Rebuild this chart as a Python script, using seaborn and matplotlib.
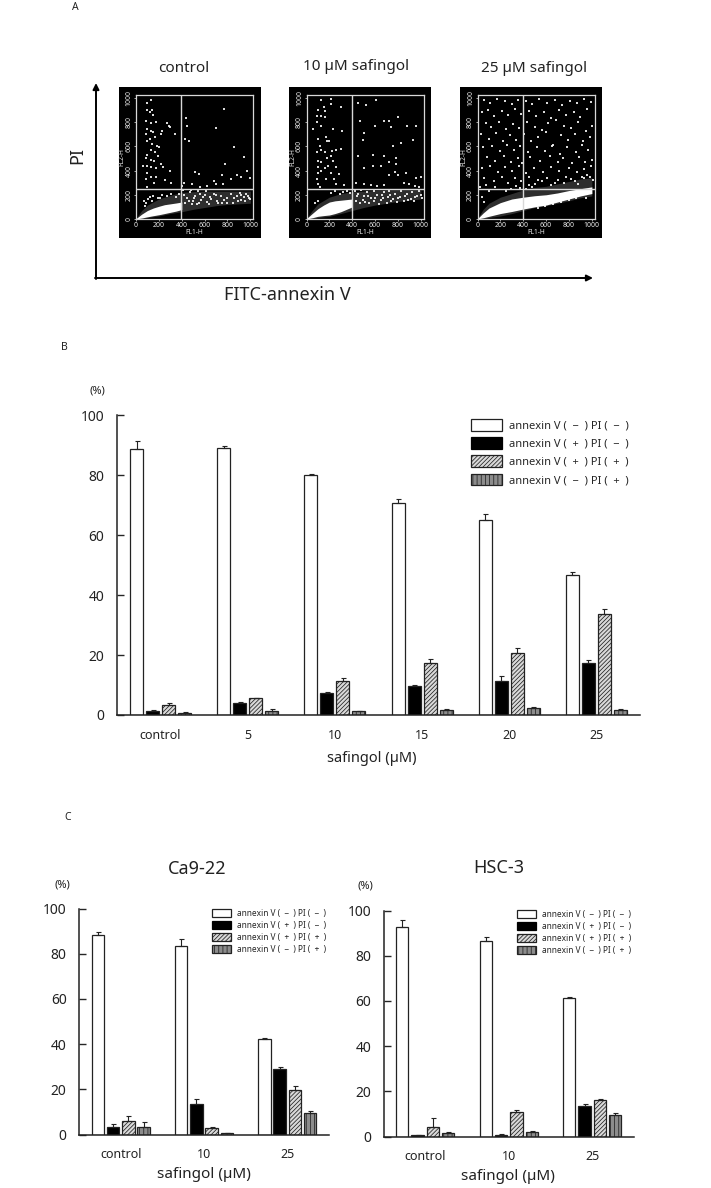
import pandas as pd
import matplotlib
matplotlib.use('Agg')
import matplotlib.pyplot as plt
from matplotlib.patches import Patch
import seaborn as sns

# --- dati pannello B (%)
dosi_b = ['control', '5', '10', '15', '20', '25']
b_neg_neg = [88.9, 89.0, 80.0, 70.7, 65.0, 46.9]
b_pos_neg = [1.3, 4.0, 7.2, 9.6, 11.5, 17.3]
b_pos_pos = [3.5, 5.6, 11.5, 17.5, 20.8, 33.7]
b_neg_pos = [0.7, 1.2, 1.2, 1.8, 2.2, 1.8]
b_neg_neg_err = [2.7, 0.8, 0.6, 1.5, 2.0, 0.7]
b_pos_neg_err = [0.3, 0.5, 0.5, 0.5, 1.4, 0.9]
b_pos_pos_err = [0.5, 0.2, 0.8, 1.2, 1.7, 1.8]
b_neg_pos_err = [0.2, 0.8, 0.3, 0.3, 0.5, 0.1]

# --- dati pannello C
dosi_c = ['control', '10', '25']
ca_neg_neg = [88.2, 83.5, 42.2]
ca_pos_neg = [3.2, 13.7, 28.9]
ca_pos_pos = [5.8, 2.8, 19.9]
ca_neg_pos = [3.2, 0.6, 9.3]
ca_neg_neg_err = [1.2, 3.1, 0.6]
ca_pos_neg_err = [1.4, 2.1, 1.0]
ca_pos_pos_err = [2.3, 0.7, 1.5]
ca_neg_pos_err = [2.3, 0.2, 0.9]

hsc_neg_neg = [92.9, 86.7, 61.2]
hsc_pos_neg = [0.45, 0.7, 13.7]
hsc_pos_pos = [4.3, 10.8, 16.1]
hsc_neg_pos = [1.6, 2.0, 9.6]
hsc_neg_neg_err = [2.7, 1.6, 0.6]
hsc_pos_neg_err = [0.25, 0.2, 0.9]
hsc_pos_pos_err = [3.7, 0.9, 0.7]
hsc_neg_pos_err = [0.3, 0.6, 1.0]

etichette = ['annexin V (  −  ) PI (  −  )', 'annexin V (  +  ) PI (  −  )',
             'annexin V (  +  ) PI (  +  )', 'annexin V (  −  ) PI (  +  )']

# --- pannello A: punti letti a occhio dai dot plot (FL1-H, FL2-H)
ctrl_x = [100, 130, 140, 95, 120, 150, 90, 135, 175, 270, 290, 300, 230, 220, 100, 130, 150, 85, 170, 120,
          100, 140, 180, 200, 130, 165, 100, 90, 130, 160, 190, 60, 100, 135, 175, 215, 240, 300, 100, 130,
          175, 90, 160, 250, 310, 100, 340, 440, 450, 430, 460, 700, 770, 860, 780, 520, 550, 940, 970, 1000,
          880, 920, 830, 750, 680, 700, 760, 560, 620, 420, 490, 400,
          420, 445, 470, 495, 520, 545, 570, 600, 625, 650, 680, 710, 740, 770, 800, 830, 860, 890, 920, 950,
          980, 1000, 430, 460, 490, 530, 560, 590, 640, 700, 750, 800, 880, 920, 960, 985, 410, 480, 510, 550,
          610, 660, 720, 850, 905, 940, 70, 90, 120, 150, 190, 230, 270, 310, 350, 380, 80, 105, 140, 210]
ctrl_y = [960, 980, 900, 900, 880, 860, 810, 790, 800, 790, 770, 760, 730, 700, 740, 730, 720, 700, 680, 660,
          640, 620, 600, 590, 570, 550, 530, 500, 490, 480, 520, 440, 440, 430, 420, 450, 430, 400, 380, 350,
          350, 330, 300, 320, 300, 260, 700, 830, 770, 660, 640, 750, 910, 590, 450, 390, 370, 510, 400, 340,
          360, 350, 330, 360, 310, 290, 290, 260, 270, 300, 290, 270,
          200, 170, 220, 150, 190, 230, 160, 200, 140, 180, 210, 150, 190, 160, 130, 210, 170, 150, 200, 145,
          190, 165, 130, 150, 120, 125, 210, 180, 120, 200, 135, 175, 190, 160, 210, 175, 240, 240, 170, 135,
          235, 165, 130, 130, 215, 185, 150, 130, 180, 190, 175, 200, 190, 205, 180, 210, 110, 165, 150, 170]

dieci_x = [130, 215, 100, 210, 165, 150, 90, 130, 160, 300, 90, 60, 130, 230, 310, 100, 170, 180, 200, 120,
           300, 130, 165, 220, 260, 90, 210, 100, 130, 180, 230, 100, 190, 165, 260, 100, 130, 210, 280, 90,
           170, 240, 100, 330, 260, 120, 450, 520, 610, 470, 600, 680, 720, 800, 880, 960, 500, 740, 490, 830,
           930, 760, 780, 580, 450, 680, 720, 500, 580, 650, 780, 770, 720, 800, 870, 960, 1000, 430, 500, 560,
           620, 680, 850, 900, 950, 980,
           420, 450, 480, 500, 530, 560, 590, 620, 650, 680, 710, 740, 770, 800, 830, 860, 890, 920, 950, 980,
           1000, 430, 470, 510, 550, 590, 630, 670, 700, 730, 760, 790, 820, 850, 880, 910, 940, 970, 1010, 440,
           490, 540, 600, 660, 720, 290, 320, 350, 380, 250, 210, 100, 70]
dieci_y = [980, 990, 900, 950, 890, 920, 850, 850, 840, 920, 800, 740, 770, 740, 730, 660, 680, 640, 640, 600,
           580, 570, 550, 560, 570, 550, 520, 480, 470, 500, 480, 430, 440, 420, 430, 380, 400, 380, 370, 330,
           330, 330, 290, 280, 290, 260, 960, 940, 980, 810, 770, 810, 810, 840, 770, 770, 710, 760, 650, 630,
           650, 600, 500, 530, 520, 520, 470, 420, 440, 440, 450, 390, 360, 360, 380, 340, 350, 300, 290, 280,
           270, 280, 300, 290, 270, 260,
           230, 210, 240, 190, 220, 170, 230, 200, 160, 220, 180, 150, 210, 170, 230, 190, 160, 220, 180, 230,
           200, 150, 130, 140, 130, 145, 125, 170, 130, 200, 165, 140, 180, 150, 210, 165, 150, 190, 170, 190,
           160, 190, 170, 200, 230, 210, 225, 230, 215, 235, 215, 150, 130]

venticinque_x = [60, 110, 170, 240, 300, 350, 420, 480, 540, 610, 680, 740, 810, 870, 930, 990,
                 40, 90, 140, 210, 270, 330, 380, 450, 510, 580, 640, 710, 770, 840, 900, 960,
                 70, 120, 190, 250, 310, 360, 430, 500, 560, 620, 690, 760, 820, 880, 950, 1000,
                 30, 100, 160, 220, 280, 340, 410, 470, 530, 600, 660, 730, 790, 850, 920, 980,
                 50, 130, 200, 260, 320, 370, 440, 520, 590, 650, 720, 780, 860, 910, 970,
                 80, 150, 230, 290, 350, 390, 460, 550, 630, 700, 750, 830, 890, 940, 1000,
                 40, 110, 180, 240, 300, 360, 420, 490, 570, 640, 710, 800, 870, 930, 990,
                 60, 140, 210, 270, 330, 380, 450, 530, 610, 680, 770, 850, 910, 960,
                 20, 70, 40, 100, 150, 60, 500, 560, 640, 700, 760, 820, 880, 930, 980, 1010,
                 530, 590, 660, 730, 800, 860, 950, 450, 480, 420, 250, 290, 340, 370]
venticinque_y = [980, 960, 990, 970, 950, 985, 970, 945, 990, 960, 980, 940, 975, 955, 990, 965,
                 880, 900, 850, 890, 860, 905, 870, 895, 850, 880, 835, 900, 860, 885, 840, 905,
                 790, 760, 800, 745, 780, 750, 800, 760, 735, 790, 820, 770, 750, 800, 730, 770,
                 700, 660, 710, 640, 690, 655, 700, 640, 680, 720, 610, 690, 650, 700, 640, 680,
                 590, 600, 560, 610, 570, 600, 550, 590, 560, 600, 540, 590, 555, 610, 570,
                 510, 480, 520, 470, 500, 460, 510, 480, 520, 470, 500, 460, 510, 470, 490,
                 420, 440, 390, 430, 400, 440, 380, 420, 390, 430, 400, 420, 385, 410, 440,
                 340, 310, 350, 300, 340, 310, 350, 320, 340, 300, 345, 310, 350, 360,
                 260, 280, 180, 230, 260, 140, 290, 310, 280, 320, 300, 330, 290, 340, 350, 320,
                 90, 105, 125, 140, 155, 170, 175, 280, 260, 250, 230, 250, 270, 255]

# bande dense dei dot plot: bordi
banda_x = [0, 50, 100, 200, 300, 400, 500, 600, 700, 800, 900, 1000]
ctrl_alone_low = [0, 3, 12, 25, 45, 60, 80, 95, 110, 120, 125, 130]
ctrl_alone_up = [5, 70, 115, 165, 195, 220, 225, 230, 230, 230, 230, 230]
ctrl_core_x = [0, 50, 100, 150, 200, 250, 300, 350, 400]
ctrl_core_low = [0, 8, 18, 27, 35, 45, 55, 65, 78]
ctrl_core_up = [3, 40, 70, 90, 105, 118, 125, 132, 140]

dieci_alone_low = [0, 3, 12, 22, 45, 70, 95, 115, 130, 145, 155, 165]
dieci_alone_up = [5, 70, 125, 180, 210, 225, 230, 235, 240, 240, 240, 240]
dieci_core_x = [0, 50, 100, 150, 200, 250, 300, 350, 400]
dieci_core_low = [0, 10, 22, 28, 33, 45, 60, 80, 100]
dieci_core_up = [3, 45, 85, 115, 140, 150, 155, 160, 165]

venti_alone_low = [0, 3, 12, 25, 45, 70, 95, 110, 130, 150, 175, 190]
venti_alone_up = [5, 80, 130, 180, 210, 240, 260, 270, 290, 310, 330, 340]
venti_core_x = [0, 50, 100, 200, 300, 400, 500, 600, 700, 800, 900, 1000]
venti_core_low = [0, 10, 22, 45, 62, 82, 100, 115, 140, 165, 190, 210]
venti_core_up = [3, 50, 90, 135, 165, 180, 192, 200, 215, 235, 250, 265]

tick_fl = [0, 200, 400, 600, 800, 1000]

sns.set_theme(style='ticks')
plt.rcParams['font.family'] = ['Noto Sans', 'DejaVu Sans']
plt.rcParams['hatch.linewidth'] = 0.55

W, H = 711, 1188
fig = plt.figure(figsize=(W / 100, H / 100), dpi=100, facecolor='white')


def assi_px(sx, alto, dx, basso):
    return fig.add_axes([sx / W, 1 - basso / H, (dx - sx) / W, (basso - alto) / H])


# strato in pixel per testi e frecce
sopra = fig.add_axes([0, 0, 1, 1], zorder=5)
sopra.set_xlim(0, W)
sopra.set_ylim(H, 0)
sopra.axis('off')
sopra.patch.set_alpha(0)


def scritta(x, y, s, size, **kw):
    sopra.text(x, y, s, fontsize=size, ha='center', va='center', color='#222222', **kw)


def dotplot(sx, punti_x, punti_y, alone_low, alone_up, core_x, core_low, core_up):
    nero = assi_px(sx, 87, sx + 142, 238)
    nero.set_facecolor('black')
    nero.set_xticks([])
    nero.set_yticks([])
    for s in nero.spines.values():
        s.set_visible(False)

    ax = assi_px(sx + 17.5, 95, sx + 134.5, 219)
    ax.set_facecolor('black')
    ax.fill_between(banda_x, alone_low, alone_up, color='#9a9a9a', alpha=0.3, lw=0)
    sns.scatterplot(x=punti_x, y=punti_y, ax=ax, color='white', s=1.1, marker='s', linewidth=0, alpha=0.85)
    ax.fill_between(core_x, core_low, core_up, color='white', lw=0)
    ax.axvline(397, color='#d8d8d8', lw=1.0)
    ax.axhline(247, color='#d8d8d8', lw=1.0)
    ax.set_xlim(0, 1023)
    ax.set_ylim(0, 1023)
    ax.set_xticks(tick_fl)
    ax.set_yticks(tick_fl)
    ax.tick_params(colors='#e6e6e6', labelsize=5, length=1.5, width=0.5, pad=1)
    plt.setp(ax.get_yticklabels(), rotation=90, va='center')
    ax.set_xlabel('FL1-H', fontsize=4.8, color='#e6e6e6', labelpad=-0.5)
    ax.set_ylabel('FL2-H', fontsize=4.8, color='#e6e6e6', labelpad=0)
    for s in ax.spines.values():
        s.set_color('#d8d8d8')
        s.set_linewidth(0.9)


dotplot(118.5, ctrl_x, ctrl_y, ctrl_alone_low, ctrl_alone_up, ctrl_core_x, ctrl_core_low, ctrl_core_up)
dotplot(289, dieci_x, dieci_y, dieci_alone_low, dieci_alone_up, dieci_core_x, dieci_core_low, dieci_core_up)
dotplot(460, venticinque_x, venticinque_y, venti_alone_low, venti_alone_up, venti_core_x, venti_core_low, venti_core_up)

scritta(184, 68, 'control', 11)
scritta(356, 66, '10 µM safingol', 11)
scritta(534, 68, '25 µM safingol', 11)
scritta(287, 295, 'FITC-annexin V', 13)
scritta(77, 156, 'PI', 13, rotation=90)
scritta(75, 7, 'A', 7.5)
scritta(64, 347, 'B', 7.5)
scritta(68, 818, 'C', 7.5)

freccia = dict(arrowstyle='-|>', color='black', lw=1.4, shrinkA=0, shrinkB=0, mutation_scale=9)
sopra.annotate('', xy=(96, 83), xytext=(96, 279), arrowprops=freccia)
sopra.annotate('', xy=(593, 278), xytext=(95, 278), arrowprops=freccia)


def pannello(sx, alto, dx, basso, dosi, serie, errori, font_tick):
    righe = []
    for nome, valori in zip(etichette, serie):
        for d, v in zip(dosi, valori):
            righe.append({'dose': d, 'pct': v, 'gruppo': nome})
    df = pd.DataFrame(righe)

    ax = assi_px(sx, alto, dx, basso)
    sns.barplot(data=df, x='dose', y='pct', hue='gruppo', order=dosi, hue_order=etichette,
                palette=['white', 'black', '#d9d9d9', '#8c8c8c'], saturation=1,
                width=0.734, gap=0.19, errorbar=None, legend=False, ax=ax)

    motivi = [None, None, '////////', '||||']
    for cont, motivo, err in zip(ax.containers, motivi, errori):
        centri = []
        tops = []
        for b in cont:
            b.set_edgecolor('#222222')
            b.set_linewidth(0.9)
            if motivo:
                b.set_hatch(motivo)
            centri.append(b.get_x() + b.get_width() / 2)
            tops.append(b.get_height())
        ax.errorbar(centri, tops, yerr=[[0] * len(err), err], fmt='none', ecolor='#222222',
                    elinewidth=0.8, capsize=1.8, capthick=0.8, zorder=1)

    ax.set_xlim(-0.5, len(dosi) - 0.5)
    ax.set_ylim(0, 100)
    ax.set_yticks([0, 20, 40, 60, 80, 100])
    ax.set_xlabel('')
    ax.set_ylabel('')
    ax.tick_params(axis='y', direction='in', length=5, width=1, labelsize=font_tick, labelcolor='#222222', pad=9)
    ax.tick_params(axis='x', length=0, labelsize=font_tick - 1, labelcolor='#222222', pad=10)
    ax.patch.set_alpha(0)
    sns.despine(ax=ax)
    for lato in ['left', 'bottom']:
        ax.spines[lato].set_color('#222222')
        ax.spines[lato].set_linewidth(1.1)
    return ax


def legenda(ax, x, y, size, hlen, hhei, spazio, pad):
    maniglie = [Patch(facecolor='white', edgecolor='#222222', lw=0.9),
                Patch(facecolor='black', edgecolor='black', lw=0.9),
                Patch(facecolor='#d9d9d9', edgecolor='#222222', lw=0.9, hatch='////////'),
                Patch(facecolor='#8c8c8c', edgecolor='#222222', lw=0.9, hatch='||||')]
    ax.legend(maniglie, etichette, loc='upper left', bbox_to_anchor=(x / W, 1 - y / H),
              bbox_transform=fig.transFigure, frameon=False, fontsize=size, handlelength=hlen,
              handleheight=hhei, labelspacing=spazio, handletextpad=pad, borderpad=0, borderaxespad=0)


ax_b = pannello(117, 415.5, 640, 715, dosi_b,
                [b_neg_neg, b_pos_neg, b_pos_pos, b_neg_pos],
                [b_neg_neg_err, b_pos_neg_err, b_pos_pos_err, b_neg_pos_err], 10)
legenda(ax_b, 471, 419, 8, 2.8, 1.25, 0.5, 0.65)
scritta(97, 391, '(%)', 8)
scritta(372, 758, 'safingol (µM)', 10.5)

ax_ca = pannello(79, 908.5, 329, 1134.5, dosi_c,
                 [ca_neg_neg, ca_pos_neg, ca_pos_pos, ca_neg_pos],
                 [ca_neg_neg_err, ca_pos_neg_err, ca_pos_pos_err, ca_neg_pos_err], 10)
legenda(ax_ca, 212, 909, 6, 2.3, 1.08, 0.35, 0.65)
scritta(197, 869, 'Ca9-22', 13)
scritta(62, 885, '(%)', 8)
scritta(204, 1175, 'safingol (µM)', 11)

ax_hsc = pannello(383.5, 910.5, 634, 1136.5, dosi_c,
                  [hsc_neg_neg, hsc_pos_neg, hsc_pos_pos, hsc_neg_pos],
                  [hsc_neg_neg_err, hsc_pos_neg_err, hsc_pos_pos_err, hsc_neg_pos_err], 10)
legenda(ax_hsc, 517, 910, 6, 2.3, 1.08, 0.35, 0.65)
scritta(499, 868, 'HSC-3', 13)
scritta(365, 886, '(%)', 8)
scritta(508, 1177, 'safingol (µM)', 11)

fig.savefig('out.png', dpi=100)
